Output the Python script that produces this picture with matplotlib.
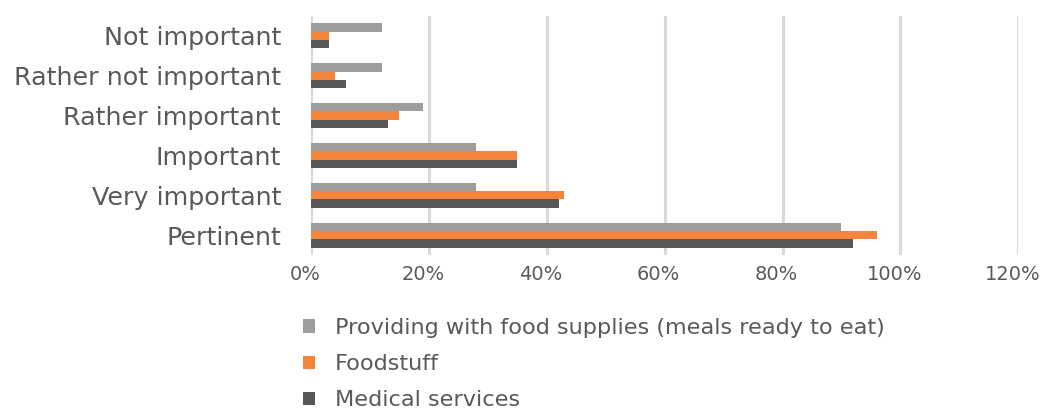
import matplotlib
matplotlib.use("Agg")
import matplotlib.pyplot as plt
from matplotlib.patches import Patch
from matplotlib.transforms import ScaledTranslation
import numpy as np

categories = ["Pertinent", "Very important", "Important",
              "Rather important", "Rather not important", "Not important"]
series_names = ["Providing with food supplies (meals ready to eat)",
                "Foodstuff", "Medical services"]
meals_ready = [90, 28, 28, 19, 12, 12]
foodstuff = [96, 43, 35, 15, 4, 3]
medical = [92, 42, 35, 13, 6, 3]
x_ticks = [0, 20, 40, 60, 80, 100, 120]
x_tick_labels = ["0%", "20%", "40%", "60%", "80%", "100%", "120%"]

colors = ["#9d9d9d", "#f5843c", "#58585a"]
text_color = "#595959"

fig = plt.figure(figsize=(10.41, 4.11), dpi=100)
ax = fig.add_axes([311 / 1041, 1 - 255 / 411, (1018.3 - 311) / 1041, 239 / 411])

y = np.arange(len(categories))
h = 0.21
for vals, off, c in zip([meals_ready, foodstuff, medical], [h, 0, -h], colors):
    ax.barh(y + off, vals, height=h, color=c, zorder=3)

ax.set_xlim(0, 120)
ax.set_ylim(-0.5, len(categories) - 0.5)
ax.set_xticks(x_ticks)
ax.set_xticklabels(x_tick_labels, fontsize=14, color=text_color)
ax.set_yticks(y)
ax.set_yticklabels(categories, fontsize=18.3, color=text_color)
ax.tick_params(axis="both", length=0)
ax.tick_params(axis="x", pad=7)
ax.tick_params(axis="y", pad=21.6)
shift = ScaledTranslation(-6 / 100, 0, fig.dpi_scale_trans)
for lbl in ax.get_xticklabels():
    lbl.set_transform(lbl.get_transform() + shift)
ax.grid(axis="x", color="#d9d9d9", linewidth=2.2, zorder=0)
for s in ax.spines.values():
    s.set_visible(False)

handles = [Patch(facecolor=c, edgecolor="none") for c in colors]
fig.legend(handles, series_names, loc="upper left",
           bbox_to_anchor=(303 / 1041, 1 - 318 / 411), frameon=False,
           fontsize=16.1, labelcolor=text_color, handlelength=0.54,
           handleheight=0.54, handletextpad=0.87, labelspacing=0.72,
           borderpad=0, borderaxespad=0)

fig.savefig("out.png", dpi=100)
